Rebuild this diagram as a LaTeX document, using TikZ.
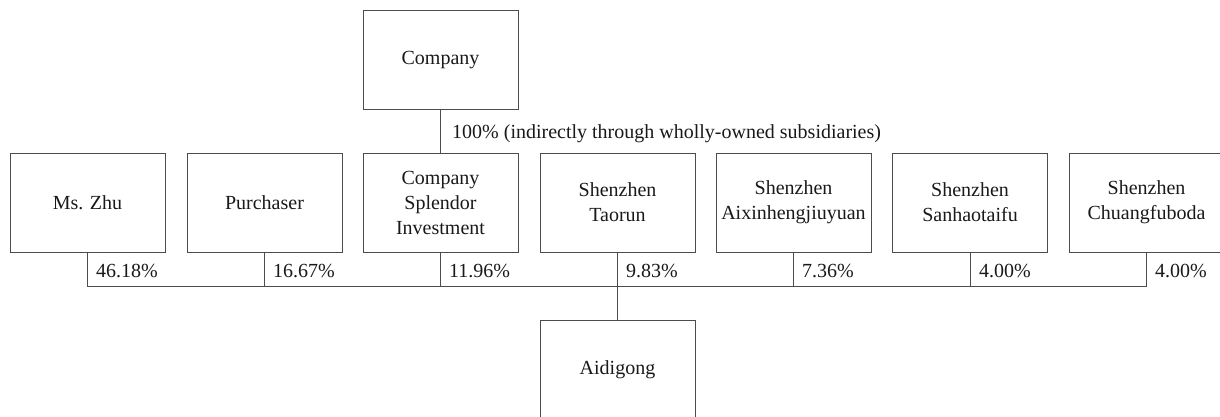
\documentclass[tikz,border=0pt]{standalone}
\usepackage{fontspec}
\setmainfont{Liberation Serif}
\begin{document}
\begin{tikzpicture}[x=1pt,y=-1pt,
  box/.style={draw=black!70, line width=1pt, minimum width=155pt, minimum height=99pt, inner sep=0pt, align=center, text=black!90, font=\fontsize{20}{25}\selectfont},
  pct/.style={anchor=base west, inner sep=0pt, text=black!90, font=\fontsize{20}{25}\selectfont},
  link/.style={draw=black!70, line width=1pt}]
\useasboundingbox (0,0) rectangle (1220,416);
\node[box] (company) at (440.5,60) {Company};
\node[box] (zhu) at (87.5,202.5) {Ms. Zhu};
\node[box] (purch) at (264.5,202.5) {Purchaser};
\node[box] (splendor) at (440.5,202.5) {Company\\Splendor\\Investment};
\node[box] (taorun) at (617.5,202.5) {Shenzhen\\Taorun};
\node[box] (aixin) at (793.5,202.5) {Shenzhen\\Aixinhengjiuyuan};
\node[box] (sanhao) at (970,202.5) {Shenzhen\\Sanhaotaifu};
\node[box] (chuang) at (1146.5,202.5) {Shenzhen\\Chuangfuboda};
\node[box] (aidigong) at (617.5,369.5) {Aidigong};
\coordinate (bus) at (0,286.7);
\draw[link] (company.south) -- (splendor.north);
\draw[link] (zhu.south) -- (zhu.south |- bus) -- (chuang.south |- bus) -- (chuang.south);
\draw[link] (purch.south) -- (purch.south |- bus);
\draw[link] (splendor.south) -- (splendor.south |- bus);
\draw[link] (taorun.south) -- (aidigong.north);
\draw[link] (aixin.south) -- (aixin.south |- bus);
\draw[link] (sanhao.south) -- (sanhao.south |- bus);
\node[pct] (p0) at (452,138) {100\% (indirectly through wholly-owned subsidiaries)};
\node[pct] (p1) at (96,277.7) {46.18\%};
\node[pct] (p2) at (273,277.7) {16.67\%};
\node[pct] (p3) at (449,277.7) {11.96\%};
\node[pct] (p4) at (626,277.7) {9.83\%};
\node[pct] (p5) at (802,277.7) {7.36\%};
\node[pct] (p6) at (979,277.7) {4.00\%};
\node[pct] (p7) at (1155,277.7) {4.00\%};
\end{tikzpicture}
\end{document}
